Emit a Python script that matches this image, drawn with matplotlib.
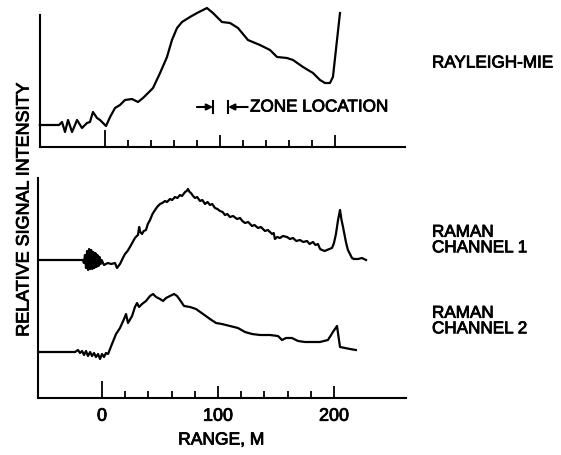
import matplotlib
matplotlib.use("Agg")
import matplotlib.pyplot as plt
import matplotlib.patheffects as pe
from matplotlib import font_manager

_names = {f.name for f in font_manager.fontManager.ttflist}
if 'Liberation Sans Narrow' in _names:
    FONT = ['Liberation Sans Narrow', 'DejaVu Sans']
    FS = 14.0
else:
    FONT = ['Liberation Sans', 'DejaVu Sans']
    FS = 12.3
plt.rcParams['font.family'] = FONT
BOLD = [pe.withStroke(linewidth=0.6, foreground='black')]

# ---------------- data (range in m, relative signal in arbitrary units) ----------------
rm_range = [-56, -39.4, -36.8, -34.2, -31.6, -28.1, -23.8, -19.5, -15.2, -12.6, -10, -6.5,
            -3.9, 1.3, 4.8, 9.1, 13.4, 17.7, 23.8, 29, 33.3, 37.7, 42, 48.1, 54.1, 58.4,
            62.8, 67.1, 74, 80.1, 85.3, 88.7, 93.9, 101.7, 108.7, 115.6, 124.2, 134.6,
            143.3, 149.4, 158, 163.2, 171.9, 180.5, 186.6, 190.9, 195.2, 197.8, 203.9]
rm_signal = [0, 0, 3, -7, 5, -7, 5, -3, 2, 3, 13, 7,
             5, -1, 8, 17, 20, 25, 26, 23, 27, 32, 37, 52, 68, 85,
             97, 103, 108, 112, 115, 117, 112, 103, 102, 97, 85, 80,
             75, 68, 67, 65, 58, 52, 45, 42, 42, 48, 112]

ch1_range = [-55, -16.5, -15.6, -14.7, -13.8, -12.9, -12.0, -11.1, -10.2, -9.3, -8.4, -7.5,
             -6.6, -5.7, -4.8, -3.9, -3.0, -2.1, -1.2, -0.3, 1.7, 5, 8, 11.2, 12.9, 15.5, 18, 19.8, 22,
             24.1, 26, 28.4, 30, 31, 32, 33, 34.5, 36, 37.9, 39.5, 41.4, 43.5, 45.7, 47.5,
             50, 52, 54.3, 56, 58.6, 60.5, 62.9, 65, 67.2, 69, 71.6, 73, 74.1, 75.5, 76.7,
             78.5, 80.2, 82, 84.5, 86.5, 88.8, 91, 93.1, 95, 97.4, 99.5, 101.7, 104, 106,
             108, 110.3, 113, 116.4, 119, 121, 123.3, 126, 129.3, 131.5, 134.5, 137, 140.5,
             143, 146.6, 148, 149.1, 151, 153.4, 156, 159.5, 162, 164.7, 167.5, 170.7,
             173.5, 176.7, 179, 181.9, 184, 186.2, 188, 189.7, 192, 194, 196, 198.3, 200,
             201.7, 203.5, 205.2, 206.5, 207.8, 210.3, 212, 213.8, 215.5, 217.2, 220.7,
             224.1, 227.6]
ch1_signal = [0, 0, -3, 5, -8, 9, -10, 11, -9, 10, -9, 8,
              -8, 7, -7, 5, -6, 3, -4, 0, -5, -3, -4, -3, -8, -4, 2, 6, 9,
              13, 17, 22, 24, 25, 33, 28, 26, 29, 30, 36, 40, 46, 50, 53,
              56, 57, 59, 58, 61, 60, 63, 62, 65, 64, 68, 69, 71, 68, 67,
              64, 62, 63, 59, 60, 56, 58, 55, 56, 52, 51, 49, 48, 45,
              46, 43, 44, 41, 42, 39, 37, 38, 34, 35, 32, 33, 29,
              30, 26, 27, 21, 23, 22, 24, 23, 21, 22, 19, 20,
              18, 19, 16, 18, 15, 16, 11, 10, 9, 10, 11, 12, 17,
              26, 40, 50, 40, 33, 18, 10, 6, 2, 1, 1,
              2, 0]

ch2_range = [-55, -23.3, -20.7, -19, -17.2, -15.5, -13.8, -12.1, -10.3, -8.6, -6.9, -5.2,
             -3.4, -1.7, 0, 1.7, 3.4, 5.2, 8.6, 12.1, 15.5, 19, 20.7, 22.4, 25.9, 28.4,
             30.2, 31.9, 34.5, 37.9, 41.4, 44, 46.6, 50, 52.6, 55.2, 58.6, 62.1, 64.7,
             67.2, 70.7, 75.9, 81, 87.1, 93.1, 98.3, 103.4, 110.3, 117.2, 123.3, 129.3,
             136.2, 144.8, 151.7, 155.2, 158.6, 163.8, 169, 175, 181, 187.9, 194.8, 199.1,
             202.6, 205.2, 209.5, 213.8, 218.9]
ch2_signal = [0, 0, 2, -1, 1, -3, 1, -4, 0, -4, -1, -5,
              -2, -7, -2, -5, -1, -2, 8, 18, 24, 33, 38, 29, 36, 45,
              49, 45, 48, 51, 56, 58, 55, 53, 51, 54, 56, 58, 56,
              52, 46, 45, 43, 38, 33, 29, 28, 26, 24, 20, 18,
              17, 17, 16, 12, 14, 14, 11, 10, 10, 10, 12, 20,
              26, 5, 4, 3, 2]

zone_start, zone_end = 94, 107
xtick_major = [0, 100, 200]
xtick_minor = [20, 40, 60, 80, 120, 140, 160, 180]

# ---------------- figure ----------------
W, H = 561, 455
fig = plt.figure(figsize=(W / 100, H / 100), dpi=100)

def box(left, right, top, bottom):
    return [left / W, 1 - bottom / H, (right - left) / W, (bottom - top) / H]

ax1 = fig.add_axes(box(39.5, 405, 5, 147))
ax2 = fig.add_axes(box(38, 406, 175, 398))

LW = 1.6
ax1.plot(rm_range, [s + 22 for s in rm_signal], color='black', lw=LW,
         solid_joinstyle='round', clip_on=False)
ax2.plot(ch1_range, [s + 138 for s in ch1_signal], color='black', lw=LW, solid_joinstyle='round')
ax2.plot(ch2_range, [s + 46 for s in ch2_signal], color='black', lw=LW, solid_joinstyle='round')

ax1.set_xlim(-56.3, 260.2)
ax1.set_ylim(0, 142)
ax2.set_xlim(-55.2, 262.1)
ax2.set_ylim(0, 223)

for ax, top in ((ax1, 132), (ax2, 220)):
    for s in ('top', 'right'):
        ax.spines[s].set_visible(False)
    ax.spines['left'].set_bounds(0, top)
    ax.spines['left'].set_linewidth(1.5)
    ax.spines['bottom'].set_linewidth(1.5)
    ax.set_yticks([])
    ax.set_xticks(xtick_major)
    ax.set_xticks(xtick_minor, minor=True)
    ax.tick_params(axis='x', which='major', direction='in', length=8.6, width=1.3,
                   pad=7, labelsize=FS * 1.05)
    ax.tick_params(axis='x', which='minor', direction='in', length=5.0, width=1.3)
    ax.xaxis.get_major_ticks()[0].tick1line.set_markersize(12.5)
    ax.set_facecolor('none')
    for lab in ax.get_xticklabels():
        lab.set_path_effects(BOLD)

ax1.tick_params(axis='x', labelbottom=False)

# zone location marker
zy = 40
ax1.annotate('', xy=(zone_start, zy), xytext=(zone_start - 14, zy),
             arrowprops=dict(arrowstyle='-|>', color='black', lw=1.5, mutation_scale=9,
                             shrinkA=0, shrinkB=0))
ax1.annotate('', xy=(zone_end, zy), xytext=(zone_end + 17, zy),
             arrowprops=dict(arrowstyle='-|>', color='black', lw=1.5, mutation_scale=9,
                             shrinkA=0, shrinkB=0))
ax1.plot([zone_start, zone_start], [zy - 6, zy + 6], color='black', lw=1.5)
ax1.plot([zone_end, zone_end], [zy - 6, zy + 6], color='black', lw=1.5)
ax1.text(zone_end + 19, zy, 'ZONE LOCATION', fontsize=FS, va='center', ha='left',
         path_effects=BOLD)

# labels
fig.text(24 / W, 1 - 210 / H, 'RELATIVE SIGNAL INTENSITY', rotation=90, fontsize=FS * 1.05,
         ha='center', va='center', path_effects=BOLD)
fig.text(221 / W, 1 - 440 / H, 'RANGE, M', fontsize=FS * 1.02, ha='center', va='center',
         path_effects=BOLD)
fig.text(432 / W, 1 - 63 / H, 'RAYLEIGH-MIE', fontsize=FS, ha='left', va='center',
         path_effects=BOLD)
fig.text(432 / W, 1 - 240 / H, 'RAMAN\nCHANNEL 1', fontsize=FS, ha='left', va='center',
         linespacing=1.05, path_effects=BOLD)
fig.text(432 / W, 1 - 321 / H, 'RAMAN\nCHANNEL 2', fontsize=FS, ha='left', va='center',
         linespacing=1.05, path_effects=BOLD)

fig.savefig('out.png', dpi=100)
